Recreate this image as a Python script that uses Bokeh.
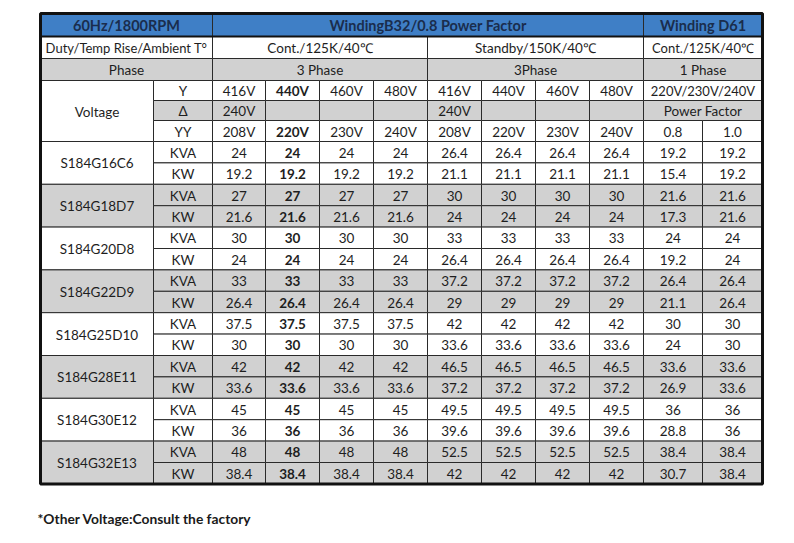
from bokeh.plotting import figure
from bokeh.models import Range1d, ColumnDataSource
from bokeh.core.properties import value
from bokeh.embed import file_html
from bokeh.resources import INLINE

# ---------------- data ----------------
models = ["S184G16C6", "S184G18D7", "S184G20D8", "S184G22D9",
          "S184G25D10", "S184G28E11", "S184G30E12", "S184G32E13"]
cont_kva = [24, 27, 30, 33, 37.5, 42, 45, 48]
cont_kw = [19.2, 21.6, 24, 26.4, 30, 33.6, 36, 38.4]
standby_kva = [26.4, 30, 33, 37.2, 42, 46.5, 49.5, 52.5]
standby_kw = [21.1, 24, 26.4, 29, 33.6, 37.2, 39.6, 42]
d61_kva_pf08 = [19.2, 21.6, 24, 26.4, 30, 33.6, 36, 38.4]
d61_kva_pf10 = [19.2, 21.6, 24, 26.4, 30, 33.6, 36, 38.4]
d61_kw_pf08 = [15.4, 17.3, 19.2, 21.1, 24, 26.9, 28.8, 30.7]
d61_kw_pf10 = [19.2, 21.6, 24, 26.4, 30, 33.6, 36, 38.4]

volt_y = ["416V", "440V", "460V", "480V"]
volt_delta = ["240V", "", "", ""]
volt_yy = ["208V", "220V", "230V", "240V"]
d61_voltage = "220V/230V/240V"
d61_pf = ["0.8", "1.0"]

header_titles = ["60Hz/1800RPM", "WindingB32/0.8 Power Factor", "Winding D61"]
duty_labels = ["Duty/Temp Rise/Ambient T°", "Cont./125K/40℃", "Standby/150K/40℃", "Cont./125K/40℃"]
phase_labels = ["Phase", "3 Phase", "3Phase", "1 Phase"]
footnote = "*Other Voltage:Consult the factory"

# ---------------- layout ----------------
X = [41, 154, 213, 266, 320, 374, 428, 482, 536, 590, 644, 703, 763]
Y = [14, 37, 59, 81, 101, 121, 142] + [142 + 21.4 * k for k in range(1, 17)]

BLUE = "#3f7fc6"
GRAY = "#d1d1d1"
WHITE = "#ffffff"
HEAD_TXT = "#1a2d4d"
TXT = "#1e1e1e"
FONT = "Lato"
BODY = "13.5px"
SMALL = "13px"
HEAD = "14.5px"

cells = []


def cell(c0, c1, r0, r1, text, fill, bold=False, color=TXT, size=BODY):
    cells.append(dict(left=X[c0], right=X[c1], top=Y[r0], bottom=Y[r1],
                      cx=(X[c0] + X[c1]) / 2, cy=(Y[r0] + Y[r1]) / 2 + 0.5,
                      text=text, fill=fill, bold=bold, color=color, size=size))


def fmt(v):
    return f"{v:g}"


# header row
cell(0, 2, 0, 1, header_titles[0], BLUE, True, HEAD_TXT, HEAD)
cell(2, 10, 0, 1, header_titles[1], BLUE, True, HEAD_TXT, HEAD)
cell(10, 12, 0, 1, header_titles[2], BLUE, True, HEAD_TXT, HEAD)
# duty row
cell(0, 2, 1, 2, duty_labels[0], WHITE, size=SMALL)
cell(2, 6, 1, 2, duty_labels[1], WHITE)
cell(6, 10, 1, 2, duty_labels[2], WHITE)
cell(10, 12, 1, 2, duty_labels[3], WHITE, size=SMALL)
# phase row
cell(0, 2, 2, 3, phase_labels[0], GRAY)
cell(2, 6, 2, 3, phase_labels[1], GRAY)
cell(6, 10, 2, 3, phase_labels[2], GRAY)
cell(10, 12, 2, 3, phase_labels[3], GRAY)
# voltage block
cell(0, 1, 3, 6, "Voltage", WHITE)
cell(1, 2, 3, 4, "Y", WHITE)
cell(1, 2, 4, 5, "Δ", GRAY)
cell(1, 2, 5, 6, "YY", WHITE)
for g in range(2):
    for i in range(4):
        c = 2 + g * 4 + i
        b = (g == 0 and i == 1)
        cell(c, c + 1, 3, 4, volt_y[i], WHITE, b)
        cell(c, c + 1, 4, 5, volt_delta[i], GRAY, b)
        cell(c, c + 1, 5, 6, volt_yy[i], WHITE, b)
cell(10, 12, 3, 4, d61_voltage, WHITE, size=SMALL)
cell(10, 12, 4, 5, "Power Factor", GRAY)
cell(10, 11, 5, 6, d61_pf[0], WHITE)
cell(11, 12, 5, 6, d61_pf[1], WHITE)

# data rows
for m, name in enumerate(models):
    r = 6 + 2 * m
    fill = WHITE if m % 2 == 0 else GRAY
    cell(0, 1, r, r + 2, name, fill)
    cell(1, 2, r, r + 1, "KVA", fill)
    cell(1, 2, r + 1, r + 2, "KW", fill)
    for i in range(4):
        c = 2 + i
        cell(c, c + 1, r, r + 1, fmt(cont_kva[m]), fill, i == 1)
        cell(c, c + 1, r + 1, r + 2, fmt(cont_kw[m]), fill, i == 1)
        c = 6 + i
        cell(c, c + 1, r, r + 1, fmt(standby_kva[m]), fill)
        cell(c, c + 1, r + 1, r + 2, fmt(standby_kw[m]), fill)
    cell(10, 11, r, r + 1, fmt(d61_kva_pf08[m]), fill)
    cell(11, 12, r, r + 1, fmt(d61_kva_pf10[m]), fill)
    cell(10, 11, r + 1, r + 2, fmt(d61_kw_pf08[m]), fill)
    cell(11, 12, r + 1, r + 2, fmt(d61_kw_pf10[m]), fill)

# ---------------- figure ----------------
W, H = 778, 527
OFF = 1
p = figure(width=W, height=H, output_backend="svg", toolbar_location=None,
           x_range=Range1d(OFF, OFF + W), y_range=Range1d(OFF + H, OFF),
           min_border=0, outline_line_color=None)
p.axis.visible = False
p.grid.visible = False
p.background_fill_color = "white"
p.border_fill_color = "white"

src = ColumnDataSource({k: [c[k] for c in cells] for k in cells[0]})
p.quad(left="left", right="right", top="top", bottom="bottom", source=src,
       fill_color="fill", line_color="#2a2a2a", line_width=1)

for bold in (False, True):
    sub = [c for c in cells if c["bold"] == bold and c["text"]]
    s = ColumnDataSource(dict(x=[c["cx"] for c in sub], y=[c["cy"] for c in sub],
                              t=[c["text"] for c in sub], col=[c["color"] for c in sub],
                              sz=[c["size"] for c in sub]))
    p.text(x="x", y="y", text="t", source=s, text_color="col",
           text_font=value(FONT), text_font_size="sz",
           text_font_style="bold" if bold else "normal",
           text_align="center", text_baseline="middle")

# thick line under header and outer border
p.segment(x0=[X[0]], y0=[Y[1]], x1=[X[-1]], y1=[Y[1]], line_color="#111111", line_width=2)
p.quad(left=[X[0]], right=[X[-1]], top=[Y[0]], bottom=[Y[-1]], fill_color=None,
       line_color="#111111", line_width=3)

p.text(x=[38], y=[519], text=[footnote], text_font=value(FONT), text_font_size="13.8px",
       text_font_style="bold", text_color="#1a1a1a", text_align="left", text_baseline="middle")

open("out.html", "w").write(file_html(p, INLINE))
